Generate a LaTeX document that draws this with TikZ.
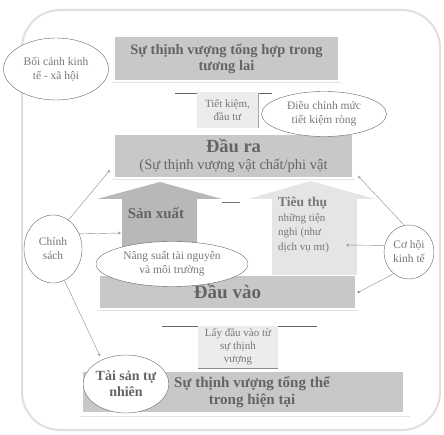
\documentclass[tikz,border=0pt]{standalone}
\usepackage{fontspec}
\setmainfont{Liberation Serif}
\usepackage{xcolor}
\usepackage{tikz}
\usetikzlibrary{positioning,shapes.geometric}
\definecolor{bandgray}{RGB}{200,200,200}
\definecolor{prodgray}{RGB}{184,184,184}
\definecolor{consgray}{RGB}{229,229,229}
\definecolor{tabgray}{RGB}{236,236,236}
\definecolor{inkgray}{RGB}{100,100,100}
\definecolor{thingray}{RGB}{120,120,120}

\begin{document}
\begin{tikzpicture}[x=1pt, y=-1pt,
bandbox/.style={rectangle, fill=bandgray, inner sep=0pt, text=inkgray, font=\bfseries\fontsize{14.5}{16}\selectfont, align=center},
tabbox/.style={rectangle, fill=tabgray, inner sep=0pt, text=thingray, font=\fontsize{11}{13}\selectfont, align=center},
ovalnode/.style={ellipse, draw=black!60, fill=white, inner sep=0pt, text=thingray, font=\fontsize{11.5}{14}\selectfont, align=center},
thinarrow/.style={draw=black!45, ->, >=stealth, thin},
rimline/.style={draw=gray!22, line width=1pt},
tabline/.style={draw=black!60, line width=1pt}]
\useasboundingbox (0,0) rectangle (444,435);
\draw[draw=gray!25, line width=2pt, rounded corners=38pt] (22,10) rectangle (440,430);

\node[bandbox, minimum width=223pt, minimum height=43pt] at (226.5,58.5) (tonghop) {Sự thịnh vượng tổng hợp trong\\tương lai};
\draw[rimline] (112,83) -- (341,83);

\node[tabbox, minimum width=61pt, minimum height=36pt] at (227.5,110) (tietkiem) {Tiết kiệm,\\đầu tư};
\draw[tabline] (175,94) -- (197,94);
\draw[tabline] (258,94) -- (272,94);
\draw[draw=black!35] (258,93) -- (258,128);

\node[bandbox, minimum width=237pt, minimum height=42pt] at (233.5,156) (daura) {{\fontsize{18.5}{18}\selectfont Đầu ra}\\[1pt]{\mdseries\fontsize{14.5}{15}\selectfont (Sự thịnh vượng vật chất/phi vật}};
\draw[rimline] (112,180) -- (355,180);

\fill[prodgray] (122,275) -- (122,199) -- (97,199) -- (160,182) -- (222,199) -- (197,199) -- (197,275) -- cycle;
\fill[consgray] (272,275) -- (272,199) -- (248,199) -- (311,181) -- (375,199) -- (357,199) -- (357,275) -- cycle;
\draw[draw=black!55, line width=1pt] (222,203) -- (240,203);
\node[text=inkgray, font=\bfseries\fontsize{15}{17}\selectfont] at (156,213) (sanxuat) {Sản xuất};
\node[anchor=north west, align=left, inner sep=0pt, text=thingray, font=\fontsize{11}{14.5}\selectfont] at (278,197) (tieuthu) {{\bfseries\fontsize{13.5}{15}\selectfont Tiêu thụ}\\những tiện\\nghi (như\\dịch vụ mt)};

\node[bandbox, minimum width=255pt, minimum height=32pt, font=\bfseries\fontsize{19}{21}\selectfont] at (227.5,292) (dauvao) {Đầu vào};
\draw[rimline] (97,311) -- (358,311);

\node[ovalnode, minimum width=152pt, minimum height=45pt] at (172,264) (nangsuat) {Nâng suất tài nguyên\\và môi trường};

\node[tabbox, minimum width=80pt, minimum height=42pt] at (238,347) (laydauvao) {Lấy đầu vào từ\\sự thịnh\\vượng};
\draw[tabline] (162,326) -- (198,326);
\draw[tabline] (278,326) -- (317,326);
\draw[draw=black!45, line width=1pt] (198,368) -- (278,368);

\node[bandbox, minimum width=320pt, minimum height=40pt] at (243,392) (hientai) {};
\node[text=inkgray, font=\bfseries\fontsize{15}{17}\selectfont, align=center] at (252,392) (hientaichu) {Sự thịnh vượng tổng thể\\trong hiện tại};
\draw[rimline] (80,416) -- (410,416);

\node[ovalnode, minimum width=76pt, minimum height=58pt, text=inkgray, font=\bfseries\fontsize{14}{16}\selectfont] at (126,384) (taisan) {Tài sản tự\\nhiên};
\node[ovalnode, minimum width=125pt, minimum height=45pt] at (324,114) (dieuchinh) {Điều chỉnh mức\\tiết kiệm ròng};
\node[ovalnode, minimum width=105pt, minimum height=62pt] at (56,69) (boicanh) {Bối cảnh kinh\\tế - xã hội};
\node[ovalnode, minimum width=58pt, minimum height=68pt] at (53,249) (chinhsach) {Chính\\sách};
\node[ovalnode, minimum width=50pt, minimum height=54pt] at (409,252) (cohoi) {Cơ hội\\kinh tế};

\coordinate (dauraL) at (110,170);
\coordinate (sanxuatL) at (121,233);
\coordinate (dauraR) at (358,176);
\coordinate (tieuthuR) at (346,245);
\coordinate (dauvaoR) at (357,293);
\draw[thinarrow] (chinhsach.62) -- (dauraL);
\draw[thinarrow] (chinhsach.30) -- (sanxuatL);
\draw[thinarrow, shorten >=4pt] (chinhsach.-70) -- (taisan.135);
\draw[thinarrow] (cohoi.100) -- (dauraR);
\draw[thinarrow] (cohoi.165) -- (tieuthuR);
\draw[thinarrow] (cohoi.-125) -- (dauvaoR);

\end{tikzpicture}
\end{document}
